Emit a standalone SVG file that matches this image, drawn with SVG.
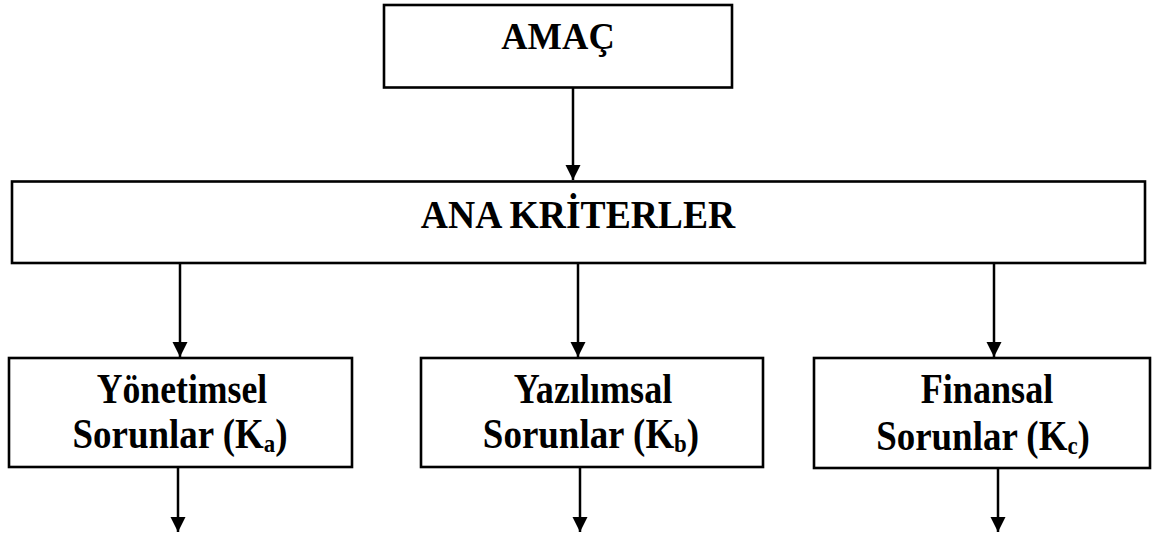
<svg xmlns="http://www.w3.org/2000/svg" width="1152" height="533" viewBox="0 0 1152 533">
  <style>
    .box { fill: #ffffff; stroke: #000000; stroke-width: 2.6; }
    .lbl { font-family: "Liberation Serif", "Times New Roman", serif; font-weight: bold; fill: #000000; text-anchor: middle; }
    .big { font-size: 38px; }
    .ana { font-size: 40px; }
    .mid { font-size: 42px; }
    .sub { font-size: 26px; }
    .conn { stroke: #000000; stroke-width: 2.5; fill: none; marker-end: url(#arr); }
  </style>
  <defs>
    <marker id="arr" markerUnits="userSpaceOnUse" markerWidth="17" markerHeight="17" refX="15" refY="7.5" orient="auto">
      <path d="M0,0 L15,7.5 L0,15 Z" fill="#000000"/>
    </marker>
  </defs>
  <rect width="1152" height="533" fill="#ffffff"/>

  <g id="connectors">
    <line class="conn" x1="573" y1="88" x2="573" y2="180"/>
    <line class="conn" x1="180" y1="263" x2="180" y2="357"/>
    <line class="conn" x1="578" y1="263" x2="578" y2="357"/>
    <line class="conn" x1="994" y1="263" x2="994" y2="357"/>
    <line class="conn" x1="178" y1="467" x2="178" y2="532"/>
    <line class="conn" x1="580" y1="467" x2="580" y2="532"/>
    <line class="conn" x1="998" y1="468" x2="998" y2="532"/>
  </g>

  <g id="amac">
    <rect class="box" x="384" y="5" width="348" height="82.5"/>
    <text class="lbl big" transform="translate(558,49) scale(0.96,1)">AMAÇ</text>
  </g>

  <g id="ana-kriterler">
    <rect class="box" x="12" y="181.5" width="1133" height="81.5"/>
    <text class="lbl ana" transform="translate(578,228) scale(0.94,1)">ANA KRİTERLER</text>
  </g>

  <g id="yonetimsel">
    <rect class="box" x="9" y="358" width="343" height="109"/>
    <text class="lbl mid" transform="translate(182,403) scale(0.85,1)">Yönetimsel</text>
    <text class="lbl mid" transform="translate(180,448) scale(0.88,1)">Sorunlar (K<tspan class="sub" baseline-shift="-4">a</tspan>)</text>
  </g>

  <g id="yazilimsal">
    <rect class="box" x="421" y="358" width="342" height="109"/>
    <text class="lbl mid" transform="translate(593,403) scale(0.86,1)">Yazılımsal</text>
    <text class="lbl mid" transform="translate(591,448) scale(0.88,1)">Sorunlar (K<tspan class="sub" baseline-shift="-4">b</tspan>)</text>
  </g>

  <g id="finansal">
    <rect class="box" x="814" y="358" width="336" height="110"/>
    <text class="lbl mid" transform="translate(987,403) scale(0.86,1)">Finansal</text>
    <text class="lbl mid" transform="translate(983,450) scale(0.88,1)">Sorunlar (K<tspan class="sub" baseline-shift="-4">c</tspan>)</text>
  </g>
</svg>
